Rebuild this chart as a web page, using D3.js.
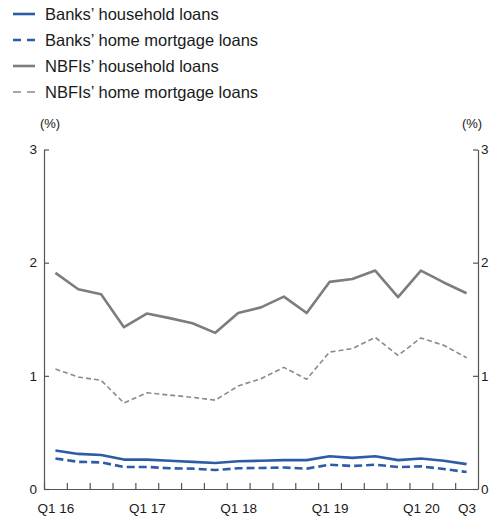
<!DOCTYPE html>
<html>
<head>
<meta charset="utf-8">
<script src="https://cdn.jsdelivr.net/npm/d3@7"></script>
<style>
  body { margin: 0; background: #fff; }
  text { font-family: "Liberation Sans", Arial, sans-serif; }
</style>
</head>
<body>
<div id="chart"></div>
<script>
// quarters Q1 16 .. Q3 20
var quarters = ["Q1 16","Q2 16","Q3 16","Q4 16","Q1 17","Q2 17","Q3 17","Q4 17",
                "Q1 18","Q2 18","Q3 18","Q4 18","Q1 19","Q2 19","Q3 19","Q4 19",
                "Q1 20","Q2 20","Q3 20"];
var tickLabels = {"Q1 16": "Q1 16", "Q1 17": "Q1 17", "Q1 18": "Q1 18",
                  "Q1 19": "Q1 19", "Q1 20": "Q1 20", "Q3 20": "Q3"};

var banksHousehold = [0.34,0.31,0.30,0.26,0.26,0.25,0.24,0.23,0.245,0.25,0.255,0.255,0.29,0.275,0.29,0.255,0.27,0.25,0.22];
var banksMortgage  = [0.27,0.24,0.235,0.195,0.195,0.183,0.18,0.168,0.183,0.186,0.19,0.18,0.215,0.203,0.215,0.194,0.20,0.177,0.15];
var nbfiHousehold  = [1.91,1.765,1.72,1.43,1.55,1.51,1.465,1.38,1.555,1.605,1.70,1.555,1.83,1.855,1.93,1.695,1.93,1.825,1.73];
var nbfiMortgage   = [1.06,0.99,0.96,0.76,0.85,0.83,0.81,0.785,0.91,0.975,1.075,0.97,1.21,1.24,1.34,1.18,1.335,1.27,1.16];

var seriesNames = ["Banks\u2019 household loans", "Banks\u2019 home mortgage loans",
                   "NBFIs\u2019 household loans", "NBFIs\u2019 home mortgage loans"];

var blue = "#2d5ca6", grey = "#7d7d7d";
var series = [
  {name: seriesNames[0], values: banksHousehold, color: blue, width: 2.6, dash: null},
  {name: seriesNames[1], values: banksMortgage,  color: blue, width: 2.6, dash: "8,4"},
  {name: seriesNames[2], values: nbfiHousehold,  color: grey, width: 2.6, dash: null},
  {name: seriesNames[3], values: nbfiMortgage,   color: "#8a8a8a", width: 1.6, dash: "5,3"}
];

var svg = d3.select("#chart").append("svg")
    .attr("width", 495)
    .attr("height", 520);

var plotLeft = 44, plotRight = 478, plotTop = 149.5, plotBottom = 489;

var x = d3.scaleLinear().domain([0, quarters.length]).range([plotLeft, plotRight]);
var y = d3.scaleLinear().domain([0, 3]).range([plotBottom, plotTop]);

var axisColor = "#555";

// x axis: ticks at quarter boundaries, pointing up
var gx = svg.append("g")
    .attr("transform", "translate(0," + plotBottom + ")")
    .call(d3.axisBottom(x).tickValues(d3.range(0, quarters.length)).tickSize(-6).tickSizeOuter(0).tickFormat(""));
gx.selectAll("path, line").attr("stroke", axisColor).attr("stroke-width", 1.2);

// x labels centred in their quarter
var gxl = svg.append("g")
    .attr("transform", "translate(0," + plotBottom + ")")
    .call(d3.axisBottom(x)
        .tickValues(quarters.map(function(q, i) { return i + 0.5; }).filter(function(v, i) { return tickLabels[quarters[i]]; }))
        .tickSize(0).tickPadding(14)
        .tickFormat(function(v) { return tickLabels[quarters[Math.floor(v)]]; }));
gxl.select(".domain").remove();
gxl.selectAll("text").attr("font-size", 13.5).attr("fill", "#1a1a1a")
    .attr("font-family", "Liberation Sans, Arial, sans-serif");

// y axes, ticks pointing inward
var gyl = svg.append("g")
    .attr("transform", "translate(" + plotLeft + ",0)")
    .call(d3.axisLeft(y).ticks(3).tickSize(-5).tickSizeOuter(0).tickPadding(7).tickFormat(d3.format("d")));
var gyr = svg.append("g")
    .attr("transform", "translate(" + plotRight + ",0)")
    .call(d3.axisRight(y).ticks(3).tickSize(-5).tickSizeOuter(0).tickPadding(3).tickFormat(d3.format("d")));
[gyl, gyr].forEach(function(g) {
  g.selectAll("path, line").attr("stroke", axisColor).attr("stroke-width", 1.2);
  g.selectAll("text").attr("font-size", 13.5).attr("fill", "#1a1a1a")
      .attr("font-family", "Liberation Sans, Arial, sans-serif");
});

svg.append("text").attr("x", 50).attr("y", 128).attr("text-anchor", "middle")
    .attr("font-size", 13).attr("fill", "#1a1a1a").text("(%)");
svg.append("text").attr("x", 472).attr("y", 128).attr("text-anchor", "middle")
    .attr("font-size", 13).attr("fill", "#1a1a1a").text("(%)");

var line = d3.line()
    .x(function(d, i) { return x(i + 0.5); })
    .y(function(d) { return y(d); });

// draw grey first, blue on top
[2, 3, 0, 1].forEach(function(k) {
  var s = series[k];
  svg.append("path")
      .attr("d", line(s.values))
      .attr("fill", "none")
      .attr("stroke", s.color)
      .attr("stroke-width", s.width)
      .attr("stroke-linejoin", "round")
      .attr("stroke-dasharray", s.dash);
});

// legend
var legend = svg.selectAll(".legend")
    .data(series)
    .enter().append("g")
    .attr("class", "legend")
    .attr("transform", function(d, i) { return "translate(13," + (14 + i * 26) + ")"; });

legend.append("line")
    .attr("x1", 0).attr("x2", 22)
    .attr("stroke", function(d) { return d.color; })
    .attr("stroke-width", function(d) { return d.width; })
    .attr("stroke-dasharray", function(d) { return d.dash ? "8,6" : null; });

legend.append("text")
    .attr("x", 32)
    .attr("dy", "0.35em")
    .attr("font-size", 16.5)
    .attr("fill", "#1a1a1a")
    .text(function(d) { return d.name; });
</script>
</body>
</html>
